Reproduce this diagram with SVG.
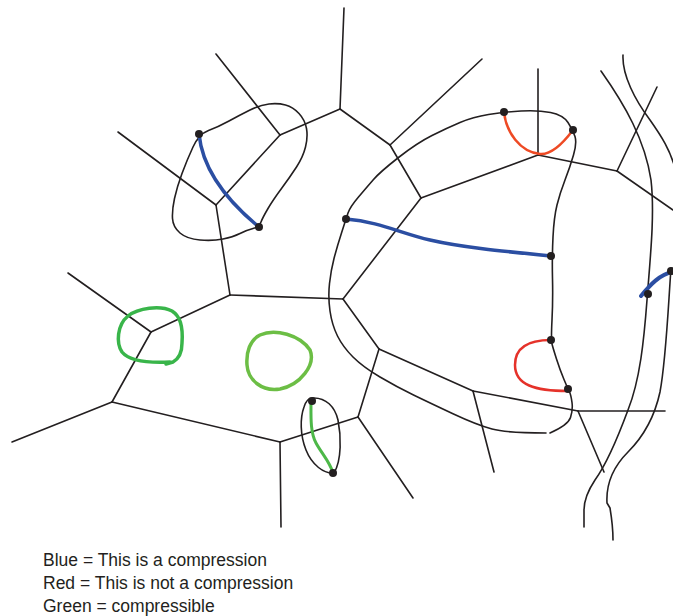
<svg xmlns="http://www.w3.org/2000/svg" width="673" height="616" viewBox="0 0 673 616">
<style>
.e{stroke:#231f20;stroke-width:1.6;fill:none;stroke-linecap:round}
.c{stroke:#231f20;stroke-width:1.6;fill:none;stroke-linecap:round;stroke-linejoin:round}
.blue{stroke:#2b4ea2;stroke-width:3.5;fill:none;stroke-linecap:round}
.red{stroke:#ee4a24;stroke-width:2.5;fill:none;stroke-linecap:round}
.g1{stroke:#39b54a;stroke-width:3.5;fill:none;stroke-linecap:round;stroke-linejoin:round}
.g2{stroke:#6cbe45;stroke-width:3.5;fill:none}
.g3{stroke:#4db848;stroke-width:3;fill:none;stroke-linecap:round}
.d{fill:#231f20}
.t{font-family:"Liberation Sans",Arial,sans-serif;font-size:17.5px;fill:#231f20}
</style>
<rect width="673" height="616" fill="#ffffff"/>
<g id="connectors">
<g id="edges">
<line class="e" x1="216" y1="54" x2="280" y2="135"/>
<line class="e" x1="280" y1="135" x2="216" y2="205"/>
<line class="e" x1="118" y1="132" x2="216" y2="205"/>
<line class="e" x1="216" y1="205" x2="230" y2="295"/>
<line class="e" x1="280" y1="135" x2="340" y2="109"/>
<line class="e" x1="344" y1="8" x2="340" y2="109"/>
<line class="e" x1="340" y1="109" x2="390" y2="145"/>
<line class="e" x1="390" y1="145" x2="482" y2="59"/>
<line class="e" x1="390" y1="145" x2="421" y2="198"/>
<line class="e" x1="421" y1="198" x2="538" y2="155"/>
<line class="e" x1="538" y1="155" x2="538" y2="69"/>
<line class="e" x1="538" y1="155" x2="617" y2="171"/>
<line class="e" x1="617" y1="171" x2="657" y2="87"/>
<line class="e" x1="617" y1="171" x2="673" y2="210"/>
<line class="e" x1="421" y1="198" x2="343" y2="299"/>
<line class="e" x1="68" y1="273" x2="151" y2="332"/>
<line class="e" x1="151" y1="332" x2="230" y2="295"/>
<line class="e" x1="230" y1="295" x2="343" y2="299"/>
<line class="e" x1="151" y1="332" x2="112" y2="402"/>
<line class="e" x1="112" y1="402" x2="12" y2="442"/>
<line class="e" x1="112" y1="402" x2="280" y2="442"/>
<line class="e" x1="280" y1="442" x2="281" y2="527"/>
<line class="e" x1="280" y1="442" x2="358" y2="417"/>
<line class="e" x1="343" y1="299" x2="379" y2="349"/>
<line class="e" x1="379" y1="349" x2="358" y2="417"/>
<line class="e" x1="358" y1="417" x2="413" y2="498"/>
<line class="e" x1="379" y1="349" x2="473" y2="391"/>
<line class="e" x1="473" y1="391" x2="494" y2="472"/>
<line class="e" x1="473" y1="391" x2="578" y2="411"/>
<line class="e" x1="578" y1="411" x2="665" y2="411"/>
<line class="e" x1="578" y1="411" x2="604" y2="472"/>
</g>
<g id="curves">
<path class="c" d="M208.5,130.5 Q218,127 229,121 Q240,115 250,110 Q260,105 269,104 Q278,103 285.5,105 Q293,107 299,113.5 Q305,120 306.5,128.5 Q308,137 305.5,147 Q303,157 296.5,167 Q290,177 281.5,188.5 Q273,200 268,208.5 Q263,217 261,222 Q259,227 253,228.5 Q247,230 240,233.5 Q233,237 223,239 Q213,241 200,240 Q187,239 180,233 Q173,227 172.5,218.5 Q172,210 174.5,198.5 Q177,187 182,173.5 Q187,160 193,147 Q199,134 208.5,130.5 Z"/>
<path class="c" d="M550,433 Q568,425 570.5,417.5 Q573,410 572,402.5 Q571,395 569.5,392 Q568,389 564,379.5 Q560,370 556.5,359 Q553,348 552,344 Q551,340 552,320 Q553,300 552.5,278.5 Q552,257 553,237 Q554,217 557,205 Q560,193 565,180 Q570,167 573.5,155 Q577,143 575,136.5 Q573,130 568,122.5 Q563,115 550.5,112.5 Q538,110 521,111 Q504,112 488.5,114.5 Q473,117 460,122.5 Q447,128 432,135.5 Q417,143 398.5,157.5 Q380,172 373.5,179.5 Q367,187 358.5,197 Q350,207 348,213 Q346,219 341.5,233 Q337,247 334,258.5 Q331,270 329.5,283.5 Q328,297 330,311 Q332,325 337.5,336 Q343,347 353,357 Q363,367 380,377 Q397,387 413.5,395 Q430,403 453.5,414 Q477,425 492,429 Q507,433 546,433"/>
<path class="c" d="M312,398 C326,397 335,407 338,420 C341,435 342,460 334,473 C324,474 312,465 306,450 C300,435 300,418 304,407 C306,401 309,398 312,398 Z"/>
<path class="c" d="M601,71 C625,105 645,140 651,180 C655,215 650,260 647,300 C644,340 640,380 628,410 C618,437 608,462 595,480 C587,492 584,500 584,510 L584,527"/>
<path class="c" d="M623,55 C622,75 635,100 650,120 C662,137 670,150 675,168"/>
<path class="c" d="M671,268 C668,310 666,360 660,392 C655,415 645,435 628,452 C612,468 606,485 607,503 L610,508 C612,520 613,530 613,540"/>
</g>
<g id="marks">
<path class="blue" d="M199,134 C202,165 220,195 259,227"/>
<path class="blue" d="M346,219 C380,222 400,233 430,240 C460,247 500,251 551,256"/>
<path class="blue" d="M641,296 C650,285 660,274 673,272" style="stroke-width:4"/>
<path class="red" d="M504,112 C506,132 520,152 540,154 C552,155 564,142 573,130"/>
<path class="red" d="M551,340 C525,340 515,350 515,365 C515,385 535,391 568,391" style="stroke:#e5322a"/>
<path class="g1" d="M170,362 C150,363 130,362 122,352 C116,343 117,325 128,316 C138,308 160,305 172,311 C182,317 183,330 182,343 C182,352 180,358 173,362 L166,364"/>
<path class="g2" d="M260,335 C275,328 300,335 310,350 C316,365 300,385 280,389 C262,392 248,380 247,365 C246,352 250,340 260,335 Z"/>
<path class="g3" d="M311,401 C311,415 310,432 316,443 C322,454 330,462 333,473"/>
</g>
</g>
<g id="n1"><circle class="d" cx="199" cy="134" r="4"/></g>
<g id="n2"><circle class="d" cx="259" cy="227" r="4"/></g>
<g id="n3"><circle class="d" cx="504" cy="112" r="4"/></g>
<g id="n4"><circle class="d" cx="573" cy="130" r="4"/></g>
<g id="n5"><circle class="d" cx="346" cy="219" r="4"/></g>
<g id="n6"><circle class="d" cx="551" cy="256" r="4"/></g>
<g id="n7"><circle class="d" cx="551" cy="340" r="4"/></g>
<g id="n8"><circle class="d" cx="568" cy="389" r="4"/></g>
<g id="n9"><circle class="d" cx="648" cy="294" r="4"/></g>
<g id="n10"><circle class="d" cx="671" cy="271" r="4"/></g>
<g id="n11"><circle class="d" cx="312" cy="401" r="4"/></g>
<g id="n12"><circle class="d" cx="333" cy="473" r="4"/></g>
<g id="legend">
<text class="t" x="43" y="566">Blue = This is a compression</text>
<text class="t" x="43" y="589">Red = This is not a compression</text>
<text class="t" x="43" y="612">Green = compressible</text>
</g>
</svg>
